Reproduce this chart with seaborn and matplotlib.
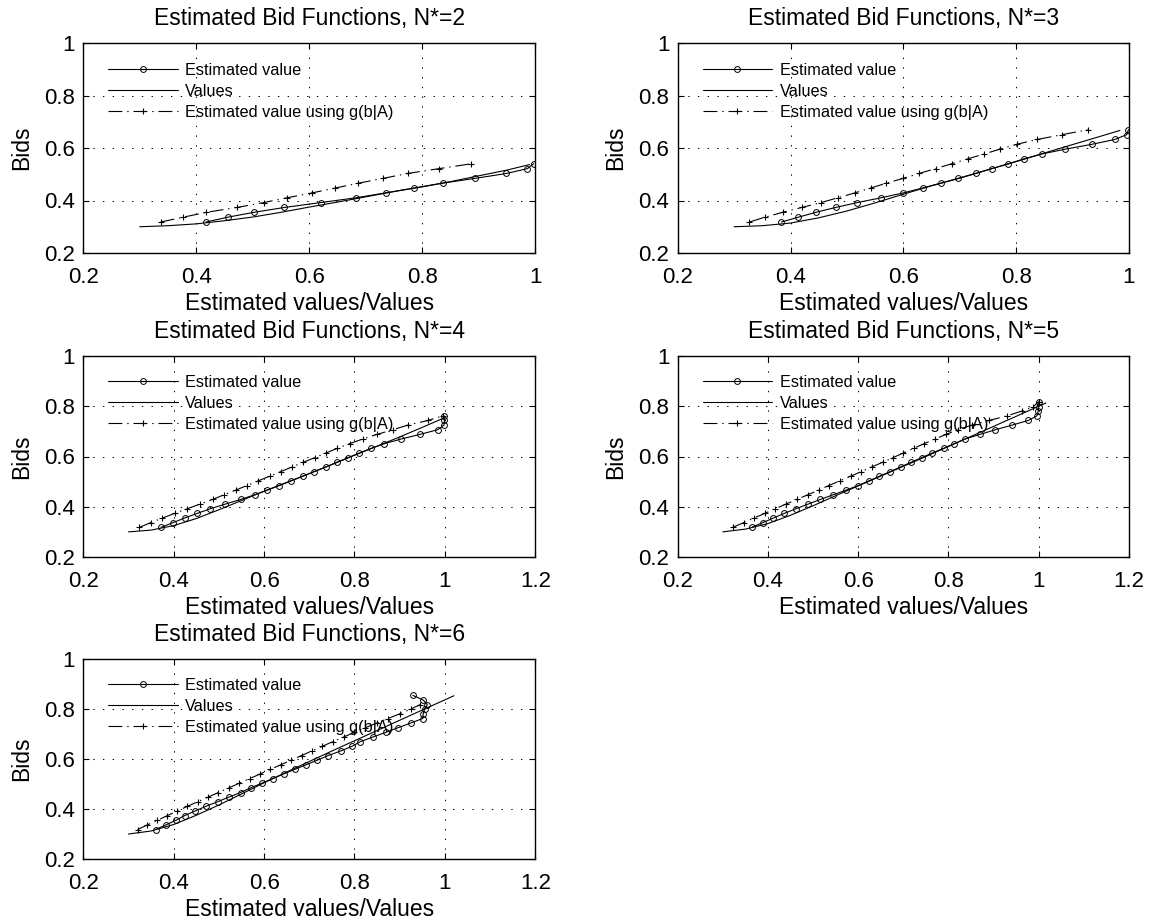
import matplotlib
matplotlib.use('Agg')
import matplotlib.pyplot as plt
import seaborn as sns
from matplotlib.ticker import FuncFormatter, MultipleLocator

# bid levels shared by the estimated curves
bid_grid = [0.318, 0.3365, 0.355, 0.3735, 0.392, 0.4105, 0.429, 0.4475, 0.466, 0.4845,
            0.503, 0.5215, 0.540, 0.5585, 0.577, 0.5955, 0.614, 0.6325, 0.651, 0.6695,
            0.688, 0.7065, 0.725, 0.7435, 0.762, 0.7805, 0.799, 0.8175, 0.836, 0.8545]

n_star = [2, 3, 4, 5, 6]

# estimated values (circles)
est2 = [0.417, 0.456, 0.502, 0.556, 0.620, 0.683, 0.735, 0.785, 0.836, 0.894, 0.949, 0.986, 0.997]
est3 = [0.384, 0.414, 0.445, 0.480, 0.518, 0.561, 0.600, 0.634, 0.666, 0.697, 0.728, 0.757, 0.786,
        0.814, 0.845, 0.887, 0.934, 0.975, 0.996, 0.999]
est4 = [0.372, 0.398, 0.424, 0.452, 0.481, 0.514, 0.548, 0.579, 0.607, 0.634, 0.660, 0.686, 0.711,
        0.737, 0.761, 0.786, 0.811, 0.837, 0.866, 0.903, 0.945, 0.984, 0.998, 0.999, 0.998]
est5 = [0.364, 0.388, 0.412, 0.436, 0.462, 0.489, 0.516, 0.544, 0.573, 0.600, 0.624, 0.647, 0.671,
        0.694, 0.717, 0.741, 0.764, 0.789, 0.813, 0.836, 0.870, 0.904, 0.941, 0.977, 0.996, 0.999,
        1.000, 1.000]
est6 = [0.360, 0.383, 0.405, 0.424, 0.447, 0.471, 0.497, 0.522, 0.548, 0.570, 0.595, 0.619, 0.643,
        0.668, 0.693, 0.718, 0.742, 0.770, 0.795, 0.813, 0.841, 0.869, 0.896, 0.924, 0.951, 0.952,
        0.955, 0.961, 0.952, 0.929]

# estimated values using g(b|A) (plus markers)
plus2 = [0.337, 0.377, 0.418, 0.472, 0.519, 0.561, 0.605, 0.646, 0.687, 0.731, 0.774, 0.830, 0.887]
plus3 = [0.327, 0.355, 0.386, 0.420, 0.454, 0.484, 0.514, 0.542, 0.570, 0.600, 0.628, 0.657, 0.686,
         0.714, 0.743, 0.771, 0.801, 0.837, 0.882, 0.927]
plus4 = [0.324, 0.349, 0.375, 0.402, 0.430, 0.458, 0.486, 0.511, 0.537, 0.562, 0.587, 0.612, 0.637,
         0.662, 0.687, 0.712, 0.737, 0.762, 0.789, 0.818, 0.850, 0.885, 0.918, 0.963, 0.995]
plus5 = [0.322, 0.346, 0.369, 0.393, 0.416, 0.440, 0.464, 0.488, 0.512, 0.535, 0.559, 0.583, 0.607,
         0.630, 0.654, 0.677, 0.700, 0.723, 0.746, 0.770, 0.795, 0.820, 0.852, 0.890, 0.930, 0.962,
         0.988, 1.000]
plus6 = [0.320, 0.342, 0.364, 0.386, 0.408, 0.430, 0.453, 0.476, 0.499, 0.522, 0.545, 0.568, 0.591,
         0.614, 0.637, 0.660, 0.683, 0.706, 0.729, 0.752, 0.776, 0.800, 0.824, 0.849, 0.874, 0.900,
         0.924, 0.945]

# true values / bid function
vals2_x = [0.30, 0.35, 0.40, 0.45, 0.50, 0.55, 0.60, 0.65, 0.70, 0.75, 0.80, 0.85, 0.90, 0.95, 0.99]
vals2_y = [0.300, 0.304, 0.311, 0.323, 0.337, 0.355, 0.375, 0.394, 0.414, 0.434, 0.452, 0.472, 0.494, 0.516, 0.537]
vals3_x = [0.30, 0.35, 0.40, 0.45, 0.50, 0.55, 0.60, 0.65, 0.70, 0.75, 0.80, 0.85, 0.90, 0.95, 0.984]
vals3_y = [0.300, 0.304, 0.314, 0.334, 0.360, 0.391, 0.424, 0.456, 0.485, 0.517, 0.548, 0.581, 0.613, 0.645, 0.667]
vals4_x = [0.30, 0.35, 0.40, 0.45, 0.50, 0.55, 0.60, 0.65, 0.70, 0.75, 0.80, 0.85, 0.90, 0.95, 1.00]
vals4_y = [0.300, 0.307, 0.325, 0.353, 0.388, 0.425, 0.462, 0.497, 0.532, 0.568, 0.605, 0.641, 0.678, 0.716, 0.755]
vals5_x = [0.30, 0.35, 0.40, 0.45, 0.50, 0.55, 0.60, 0.65, 0.70, 0.75, 0.80, 0.85, 0.90, 0.95, 1.016]
vals5_y = [0.300, 0.311, 0.333, 0.366, 0.404, 0.444, 0.483, 0.522, 0.561, 0.600, 0.640, 0.680, 0.720, 0.760, 0.813]
vals6_x = [0.30, 0.35, 0.40, 0.45, 0.50, 0.55, 0.60, 0.65, 0.70, 0.75, 0.80, 0.85, 0.90, 0.95, 1.02]
vals6_y = [0.300, 0.312, 0.338, 0.375, 0.416, 0.460, 0.505, 0.548, 0.590, 0.632, 0.673, 0.714, 0.755, 0.796, 0.853]

x_max = [1.0, 1.0, 1.2, 1.2, 1.2]

est_all = [est2, est3, est4, est5, est6]
plus_all = [plus2, plus3, plus4, plus5, plus6]
vals_all = [(vals2_x, vals2_y), (vals3_x, vals3_y), (vals4_x, vals4_y), (vals5_x, vals5_y), (vals6_x, vals6_y)]

sns.set_style('ticks')
plt.rcParams['font.family'] = ['Liberation Sans', 'DejaVu Sans']
plt.rcParams['lines.scale_dashes'] = False
plt.rcParams['text.color'] = 'k'
plt.rcParams['axes.labelcolor'] = 'k'
plt.rcParams['xtick.color'] = 'k'
plt.rcParams['ytick.color'] = 'k'

W, H = 1150, 924
fig = plt.figure(figsize=(W / 100, H / 100), dpi=100)

# axes boxes in pixels: left, top, right, bottom
boxes = [(83.3, 43, 535.3, 253), (677.7, 43, 1129, 253),
         (83.3, 356, 535.3, 557), (677.7, 356, 1129, 557),
         (83.3, 659, 535.3, 859)]

fmt = FuncFormatter(lambda v, pos: '%g' % round(v, 2))

for i in range(5):
    l, t, r, b = boxes[i]
    ax = fig.add_axes([l / W, 1 - b / H, (r - l) / W, (b - t) / H])
    est = est_all[i]
    plus = plus_all[i]
    vx, vy = vals_all[i]

    sns.lineplot(x=est, y=bid_grid[:len(est)], ax=ax, sort=False, estimator=None,
                 color='k', linewidth=0.8, marker='o', markersize=4.2, markerfacecolor='none',
                 markeredgecolor='k', markeredgewidth=0.7, label='Estimated value')
    sns.lineplot(x=vx, y=vy, ax=ax, sort=False, estimator=None,
                 color='k', linewidth=0.8, label='Values')
    sns.lineplot(x=plus, y=bid_grid[:len(plus)], ax=ax, sort=False, estimator=None,
                 color='k', linewidth=0.8, linestyle=(0, (10, 3.5, 1, 3.5)), marker='+',
                 markersize=5, markeredgecolor='k', markeredgewidth=0.8,
                 label='Estimated value using g(b|A)')

    ax.set_xlim(0.2, x_max[i])
    ax.set_ylim(0.2, 1.0)
    ax.xaxis.set_major_locator(MultipleLocator(0.2))
    ax.yaxis.set_major_locator(MultipleLocator(0.2))
    ax.xaxis.set_major_formatter(fmt)
    ax.yaxis.set_major_formatter(fmt)
    ax.grid(True, color='k', linestyle=(0, (1, 6)), linewidth=0.7)
    ax.tick_params(direction='in', top=True, right=True, length=4, width=0.8,
                   labelsize=16, colors='k')
    ax.tick_params(axis='x', pad=10)
    ax.tick_params(axis='y', pad=6)
    for s in ax.spines.values():
        s.set_visible(True)
        s.set_linewidth(1.0)
        s.set_color('k')

    ax.set_title('Estimated Bid Functions, N*=%d' % n_star[i], fontsize=16.5, pad=13, color='k')
    ax.set_xlabel('Estimated values/Values', fontsize=16.5, labelpad=3)
    ax.set_ylabel('Bids', fontsize=16.5, labelpad=8)

    ax.legend(loc='upper left', bbox_to_anchor=(0.055, 0.907), frameon=False,
              fontsize=11.7, handlelength=4.3, handletextpad=0.45, labelspacing=0.37,
              borderpad=0, borderaxespad=0, numpoints=1)

fig.savefig('out.png', dpi=100)
